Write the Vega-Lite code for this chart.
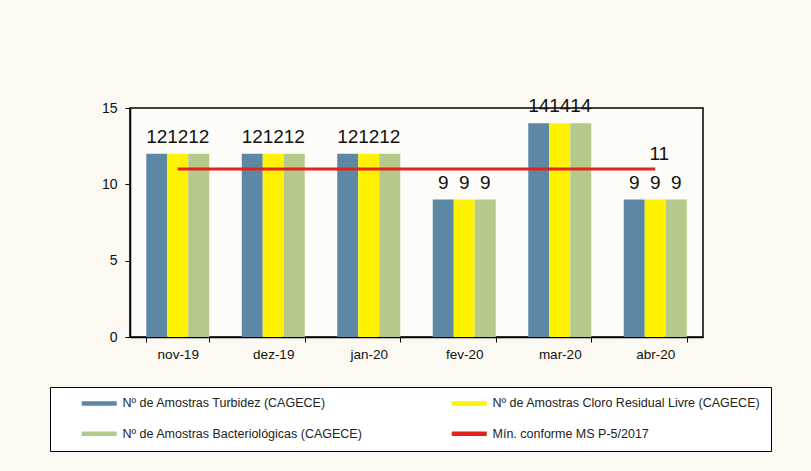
{
  "$schema": "https://vega.github.io/schema/vega-lite/v6.json",
  "width": 573,
  "height": 229,
  "autosize": {"type": "none"},
  "padding": {"left": 130, "top": 108, "right": 108, "bottom": 134},
  "background": "#fbf9f1",
  "config": {
    "view": {"stroke": "#000000", "strokeWidth": 1.5, "fill": "#fdfcf8"},
    "font": "Liberation Sans"
  },
  "datasets": {
    "barras": [
      {"mes": "nov-19", "serie": "Nº de Amostras Turbidez (CAGECE)", "valor": 12},
      {"mes": "nov-19", "serie": "Nº de Amostras Cloro Residual Livre (CAGECE)", "valor": 12},
      {"mes": "nov-19", "serie": "Nº de Amostras Bacteriológicas (CAGECE)", "valor": 12},
      {"mes": "dez-19", "serie": "Nº de Amostras Turbidez (CAGECE)", "valor": 12},
      {"mes": "dez-19", "serie": "Nº de Amostras Cloro Residual Livre (CAGECE)", "valor": 12},
      {"mes": "dez-19", "serie": "Nº de Amostras Bacteriológicas (CAGECE)", "valor": 12},
      {"mes": "jan-20", "serie": "Nº de Amostras Turbidez (CAGECE)", "valor": 12},
      {"mes": "jan-20", "serie": "Nº de Amostras Cloro Residual Livre (CAGECE)", "valor": 12},
      {"mes": "jan-20", "serie": "Nº de Amostras Bacteriológicas (CAGECE)", "valor": 12},
      {"mes": "fev-20", "serie": "Nº de Amostras Turbidez (CAGECE)", "valor": 9},
      {"mes": "fev-20", "serie": "Nº de Amostras Cloro Residual Livre (CAGECE)", "valor": 9},
      {"mes": "fev-20", "serie": "Nº de Amostras Bacteriológicas (CAGECE)", "valor": 9},
      {"mes": "mar-20", "serie": "Nº de Amostras Turbidez (CAGECE)", "valor": 14},
      {"mes": "mar-20", "serie": "Nº de Amostras Cloro Residual Livre (CAGECE)", "valor": 14},
      {"mes": "mar-20", "serie": "Nº de Amostras Bacteriológicas (CAGECE)", "valor": 14},
      {"mes": "abr-20", "serie": "Nº de Amostras Turbidez (CAGECE)", "valor": 9},
      {"mes": "abr-20", "serie": "Nº de Amostras Cloro Residual Livre (CAGECE)", "valor": 9},
      {"mes": "abr-20", "serie": "Nº de Amostras Bacteriológicas (CAGECE)", "valor": 9}
    ],
    "linha": [
      {"mes": "nov-19", "serie": "Mín. conforme MS  P-5/2017", "valor": 11},
      {"mes": "dez-19", "serie": "Mín. conforme MS  P-5/2017", "valor": 11},
      {"mes": "jan-20", "serie": "Mín. conforme MS  P-5/2017", "valor": 11},
      {"mes": "fev-20", "serie": "Mín. conforme MS  P-5/2017", "valor": 11},
      {"mes": "mar-20", "serie": "Mín. conforme MS  P-5/2017", "valor": 11},
      {"mes": "abr-20", "serie": "Mín. conforme MS  P-5/2017", "valor": 11}
    ]
  },
  "encoding": {
    "x": {
      "field": "mes",
      "type": "nominal",
      "sort": ["nov-19", "dez-19", "jan-20", "fev-20", "mar-20", "abr-20"],
      "scale": {"paddingInner": 0.34, "paddingOuter": 0.17},
      "axis": {
        "title": null,
        "labelAngle": 0,
        "tickBand": "extent",
        "tickSize": 5,
        "tickColor": "#000000",
        "domainColor": "#000000",
        "domainWidth": 1.5,
        "labelFontSize": 13.5,
        "labelColor": "#111111",
        "labelPadding": 5
      }
    },
    "y": {
      "field": "valor",
      "type": "quantitative",
      "scale": {"domain": [0, 15]},
      "axis": {
        "title": null,
        "values": [0, 5, 10, 15],
        "grid": false,
        "tickSize": 5,
        "tickColor": "#000000",
        "domainColor": "#000000",
        "domainWidth": 1.5,
        "labelFontSize": 14,
        "labelColor": "#111111",
        "labelPadding": 8
      }
    }
  },
  "layer": [
    {
      "data": {"name": "barras"},
      "mark": {"type": "bar"},
      "encoding": {
        "xOffset": {
          "field": "serie",
          "type": "nominal",
          "sort": ["Nº de Amostras Turbidez (CAGECE)", "Nº de Amostras Cloro Residual Livre (CAGECE)", "Nº de Amostras Bacteriológicas (CAGECE)"],
          "scale": {"paddingInner": 0, "paddingOuter": 0}
        },
        "color": {
          "field": "serie",
          "type": "nominal",
          "scale": {
            "domain": ["Nº de Amostras Turbidez (CAGECE)", "Nº de Amostras Cloro Residual Livre (CAGECE)", "Nº de Amostras Bacteriológicas (CAGECE)", "Mín. conforme MS  P-5/2017"],
            "range": ["#5d88a5", "#fff200", "#b5c98b", "#e3231b"]
          },
          "legend": {
            "title": null,
            "orient": "none",
            "legendX": -80,
            "legendY": 279,
            "columns": 2,
            "direction": "horizontal",
            "padding": 10,
            "rowPadding": 17.5,
            "columnPadding": 67,
            "strokeColor": "#000000",
            "fillColor": "#ffffff",
            "labelFont": "Liberation Sans",
            "labelFontSize": 12.5,
            "labelLimit": 0,
            "labelColor": "#222222",
            "symbolType": "M-3.5,-0.45H3.5V0.45H-3.5Z",
            "symbolSize": 100,
            "symbolStrokeWidth": 0,
            "symbolOffset": 33,
            "labelOffset": 17,
            "encode": {
              "symbols": {"update": {"fill": {"scale": "color", "field": "value"}, "opacity": {"value": 1}}}
            }
          }
        }
      }
    },
    {
      "data": {"name": "barras"},
      "mark": {"type": "text", "baseline": "alphabetic", "dy": -11, "fontSize": 19, "color": "#111111"},
      "encoding": {
        "xOffset": {
          "field": "serie",
          "type": "nominal",
          "sort": ["Nº de Amostras Turbidez (CAGECE)", "Nº de Amostras Cloro Residual Livre (CAGECE)", "Nº de Amostras Bacteriológicas (CAGECE)"]
        },
        "text": {"field": "valor", "type": "quantitative"}
      }
    },
    {
      "data": {"name": "linha"},
      "mark": {"type": "line", "strokeWidth": 3},
      "encoding": {
        "color": {"field": "serie", "type": "nominal"}
      }
    },
    {
      "data": {"name": "linha"},
      "transform": [{"filter": "datum.mes == 'abr-20'"}],
      "mark": {"type": "text", "baseline": "alphabetic", "dy": -9, "dx": 4, "fontSize": 19, "color": "#111111"},
      "encoding": {
        "text": {"field": "valor", "type": "quantitative"}
      }
    }
  ]
}
